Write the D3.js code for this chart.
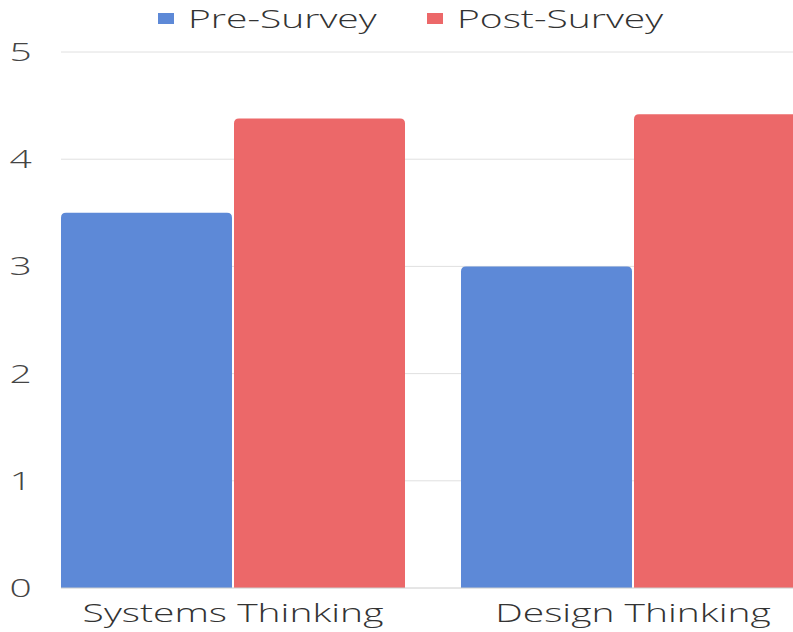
<!DOCTYPE html>
<html><head><meta charset="utf-8">
<script src="https://cdn.jsdelivr.net/npm/d3@7"></script>
<style>html,body{margin:0;padding:0;background:#fff;overflow:hidden}</style>
</head><body>
<svg id="c" width="793" height="632"></svg>
<script>
(function(){
const categories = ["Systems Thinking", "Design Thinking"];
const seriesNames = ["Pre-Survey", "Post-Survey"];
const preSurvey = [3.5, 3.0];
const postSurvey = [4.38, 4.42];
const yTicks = [0, 1, 2, 3, 4, 5];
const colors = ["#5d89d7", "#ec6869"];

const svg = d3.select("#c");
const W = 793;
const sx = 1.56; // horizontal text stretch
const font = "'Open Sans', sans-serif";
const weight = 300;
const plotLeft = 61, plotTop = 52, plotBottom = 588;

const y = d3.scaleLinear().domain([0, 5]).range([plotBottom, plotTop]);
const x0 = d3.scaleBand().domain(categories).range([61, 805]).paddingInner(0.14).paddingOuter(0);
const x1 = d3.scaleBand().domain(seriesNames).range([0, x0.bandwidth()]).paddingInner(0.0116);

svg.append("g").selectAll("line").data(yTicks.filter(d => d > 0)).join("line")
  .attr("x1", plotLeft).attr("x2", W).attr("y1", d => y(d)).attr("y2", d => y(d))
  .attr("stroke", "#e0e0e0").attr("stroke-width", 1);

svg.append("g").selectAll("text").data(yTicks).join("text")
  .attr("transform", d => `translate(20.5,${y(d) + 9}) scale(${sx},1)`)
  .attr("text-anchor", "middle").attr("font-family", font).attr("font-size", 25).attr("font-weight", weight)
  .attr("fill", "#444").text(d => d);

const data = categories.map((c, i) => ({cat: c, vals: [preSurvey[i], postSurvey[i]]}));
function barPath(x, yTop, w, h, r) {
  r = Math.min(r, h, w / 2);
  return `M${x},${yTop + h}V${yTop + r}Q${x},${yTop} ${x + r},${yTop}H${x + w - r}Q${x + w},${yTop} ${x + w},${yTop + r}V${yTop + h}Z`;
}
const g = svg.append("g");
data.forEach(d => {
  d.vals.forEach((v, j) => {
    const bx = x0(d.cat) + x1(seriesNames[j]);
    g.append("path")
      .attr("d", barPath(bx, y(v), x1.bandwidth(), y(0) - y(v), 5))
      .attr("fill", colors[j]);
  });
});

svg.append("line").attr("x1", plotLeft).attr("x2", W).attr("y1", y(0)).attr("y2", y(0))
  .attr("stroke", "#ccc").attr("stroke-width", 1);

svg.append("g").selectAll("text").data(categories).join("text")
  .attr("transform", d => `translate(${x0(d) + x0.bandwidth() / 2},622) scale(${sx},1)`)
  .attr("text-anchor", "middle").attr("font-family", font).attr("font-size", 25).attr("font-weight", weight)
  .attr("fill", "#333").text(d => d);

const legX = [158, 427];
const leg = svg.append("g");
seriesNames.forEach((s, i) => {
  leg.append("rect").attr("x", legX[i]).attr("y", 13).attr("width", 16).attr("height", 11).attr("fill", colors[i]);
  leg.append("text").attr("transform", `translate(${legX[i] + 30},28) scale(${sx},1)`)
    .attr("font-family", font).attr("font-size", 25).attr("font-weight", weight).attr("fill", "#333").text(s);
});
})();
</script>
</body></html>
